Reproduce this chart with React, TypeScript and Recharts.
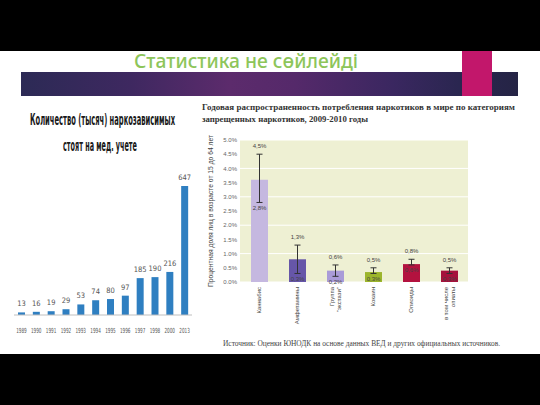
import React from 'react'
import {
  BarChart,
  Bar,
  XAxis,
  YAxis,
  CartesianGrid,
  LabelList,
  ErrorBar,
  Cell,
} from 'recharts'

// Слайд "Статистика не сөйлейді": слева число наркозависимых по годам,
// справа годовая распространенность по категориям наркотиков (с диапазоном).

const YEARS = ['1989', '1990', '1991', '1992', '1993', '1994', '1995', '1996', '1997', '1998', '2000', '2013']
const ADDICTS = [13, 16, 19, 29, 53, 74, 80, 97, 185, 190, 216, 647]

const DRUGS = ['Каннабис', 'Амфетамины', 'Группа\n"экстази"', 'Кокаин', 'Опиоиды', 'в том числе\nопиаты']
const PREVALENCE = [3.6, 0.8, 0.4, 0.35, 0.63, 0.4]
const LOW = [2.8, 0.3, 0.2, 0.3, 0.6, 0.3]
const HIGH = [4.5, 1.3, 0.6, 0.5, 0.8, 0.5]
const DRUG_COLORS = ['#c5b8e0', '#6656a8', '#a99bd8', '#9cb52c', '#b3123f', '#a5123c']
const PCT_TICKS = [0, 0.5, 1, 1.5, 2, 2.5, 3, 3.5, 4, 4.5, 5]

const SANS = '"Liberation Sans", Arial, sans-serif'
const SERIF = '"Liberation Serif", "Times New Roman", serif'
const NARROW = '"DejaVu Sans Condensed", "Liberation Sans Narrow", "DejaVu Sans", sans-serif'

const addictData = YEARS.map((y, i) => ({ year: y, count: ADDICTS[i] }))

const drugData = DRUGS.map((d, i) => ({
  name: d,
  value: PREVALENCE[i],
  err: [PREVALENCE[i] - LOW[i], HIGH[i] - PREVALENCE[i]],
  color: DRUG_COLORS[i],
}))

const pct = (v: number) => `${v.toFixed(1).replace('.', ',')}%`

const YearTick = ({ x, y, payload }: any) => (
  <text
    x={x}
    y={y}
    dy={5}
    textAnchor="middle"
    fontSize={7}
    fill="#555"
    fontFamily={NARROW}
    textLength={10.5}
    lengthAdjust="spacingAndGlyphs"
  >
    {payload.value}
  </text>
)

const DrugTick = ({ x, y, payload }: any) => {
  const lines = String(payload.value).split('\n')
  return (
    <g transform={`translate(${x},${y})`}>
      <text transform="rotate(-90)" textAnchor="end" fontSize={6} fill="#444" fontFamily={SANS}>
        {lines.map((l, i) => (
          <tspan key={i} x={0} dy={i === 0 ? (lines.length === 1 ? 2 : -1.4) : 7}>
            {l}
          </tspan>
        ))}
      </text>
    </g>
  )
}

// подписи верхней и нижней границы диапазона
const RangeLabels = (p: any) => {
  const vb = p.viewBox ?? p
  const i = p.index as number
  const x = Number(vb.x)
  const y = Number(vb.y)
  const w = Number(vb.width)
  const h = Number(vb.height)
  const v = PREVALENCE[i]
  if (!v || !isFinite(h)) return null
  const k = h / v
  const cx = x + w / 2
  const yHigh = y - (HIGH[i] - v) * k
  const yLow = y + (v - LOW[i]) * k
  return (
    <g fontSize={6} fill="#444" fontFamily={SANS} textAnchor="middle">
      <text x={cx} y={yHigh - 6}>{pct(HIGH[i])}</text>
      <text x={cx} y={yLow + 7.5}>{pct(LOW[i])}</text>
    </g>
  )
}

const AddictsChart = () => (
  <BarChart
    width={200}
    height={200}
    data={addictData}
    margin={{ top: 36, right: 8, left: 14, bottom: 0 }}
    barCategoryGap={0}
  >
    <XAxis
      dataKey="year"
      interval={0}
      height={35}
      tickLine={false}
      tickSize={0}
      tickMargin={13}
      axisLine={{ stroke: '#bfbfbf' }}
      tick={<YearTick />}
    />
    <YAxis hide domain={[0, 647]} />
    <Bar dataKey="count" fill="#2f7fc1" barSize={7} isAnimationActive={false}>
      <LabelList
        dataKey="count"
        position="top"
        offset={6}
        style={{ fontSize: 7.5, fill: '#555', fontFamily: NARROW }}
      />
    </Bar>
  </BarChart>
)

const PrevalenceChart = () => (
  <BarChart
    width={300}
    height={200}
    data={drugData}
    margin={{ top: 10, right: 27, left: 0, bottom: 0 }}
  >
    <CartesianGrid vertical={false} stroke="#ffffff" fill="#eef0d3" />
    <XAxis
      dataKey="name"
      interval={0}
      height={48}
      axisLine={false}
      tickLine={false}
      tickSize={0}
      tickMargin={5}
      tick={<DrugTick />}
    />
    <YAxis
      width={45}
      domain={[0, 5]}
      ticks={PCT_TICKS}
      axisLine={false}
      tickLine={false}
      tickSize={0}
      tickMargin={3}
      tickFormatter={(v: number) => `${v.toFixed(1)}%`}
      tick={{ fontSize: 6, fill: '#666', fontFamily: SANS }}
    />
    <Bar dataKey="value" barSize={17} isAnimationActive={false}>
      {drugData.map((d) => (
        <Cell key={d.name} fill={d.color} />
      ))}
      <ErrorBar dataKey="err" width={3} stroke="#333" strokeWidth={1} direction="y" isAnimationActive={false} />
      <LabelList dataKey="value" content={RangeLabels} />
    </Bar>
  </BarChart>
)

export default function App() {
  return (
    <div
      style={{
        position: 'absolute',
        left: 0,
        top: 0,
        width: 540,
        height: 405,
        background: '#ffffff',
        overflow: 'hidden',
      }}
    >
      <div style={{ position: 'absolute', left: 0, top: 0, width: 540, height: 51, background: '#000' }} />
      <div style={{ position: 'absolute', left: 0, top: 354, width: 540, height: 51, background: '#000' }} />
      <div
        style={{
          position: 'absolute',
          left: 21,
          top: 72,
          width: 497,
          height: 24,
          background:
            'linear-gradient(90deg, #2c2a55 0%, #3e2860 22%, #5c2b6c 42%, #55296a 55%, #3a2760 75%, #2a2650 88%, #252445 100%)',
        }}
      />
      <div style={{ position: 'absolute', left: 462, top: 51, width: 30, height: 45, background: '#c2176b' }} />

      <svg width={540} height={405} style={{ position: 'absolute', left: 0, top: 0 }}>
        <text
          x={246}
          y={68}
          textAnchor="middle"
          fontSize={19}
          fontWeight={500}
          fill="#8dc55a"
          fontFamily='"Noto Sans", "DejaVu Sans", sans-serif'
          textLength={224}
          lengthAdjust="spacingAndGlyphs"
        >
          Статистика не сөйлейді
        </text>
        <g fontFamily={NARROW} fontWeight={700} fill="#1a1a1a" fontSize={9}>
          <text
            transform="translate(30,125) scale(1,1.75)"
            textLength={145}
            lengthAdjust="spacingAndGlyphs"
          >
            Количество (тысяч) наркозависимых
          </text>
          <text
            transform="translate(63,151) scale(1,1.75)"
            textLength={74}
            lengthAdjust="spacingAndGlyphs"
          >
            стоят на мед. учете
          </text>
        </g>
        <g fontFamily={SERIF} fontWeight={700} fill="#333" fontSize={9}>
          <text x={202} y={110} textLength={313} lengthAdjust="spacingAndGlyphs">
            Годовая распространенность потребления наркотиков в мире по категориям
          </text>
          <text x={202} y={122} textLength={166} lengthAdjust="spacingAndGlyphs">
            запрещенных наркотиков, 2009-2010 годы
          </text>
        </g>
        <text
          transform="translate(213,211) rotate(-90)"
          textAnchor="middle"
          fontSize={6.3}
          fill="#444"
          fontFamily={SANS}
          textLength={152}
          lengthAdjust="spacingAndGlyphs"
        >
          Процентная доля лиц в возрасте от 15 до 64 лет
        </text>
        <text
          x={223}
          y={346}
          fontSize={8}
          fill="#444"
          fontFamily={SERIF}
          textLength={277}
          lengthAdjust="spacingAndGlyphs"
        >
          Источник: Оценки ЮНОДК на основе данных ВЕД и других официальных источников.
        </text>
      </svg>

      <div style={{ position: 'absolute', left: 0, top: 150 }}>
        <AddictsChart />
      </div>
      <div style={{ position: 'absolute', left: 195, top: 130 }}>
        <PrevalenceChart />
      </div>
    </div>
  )
}
